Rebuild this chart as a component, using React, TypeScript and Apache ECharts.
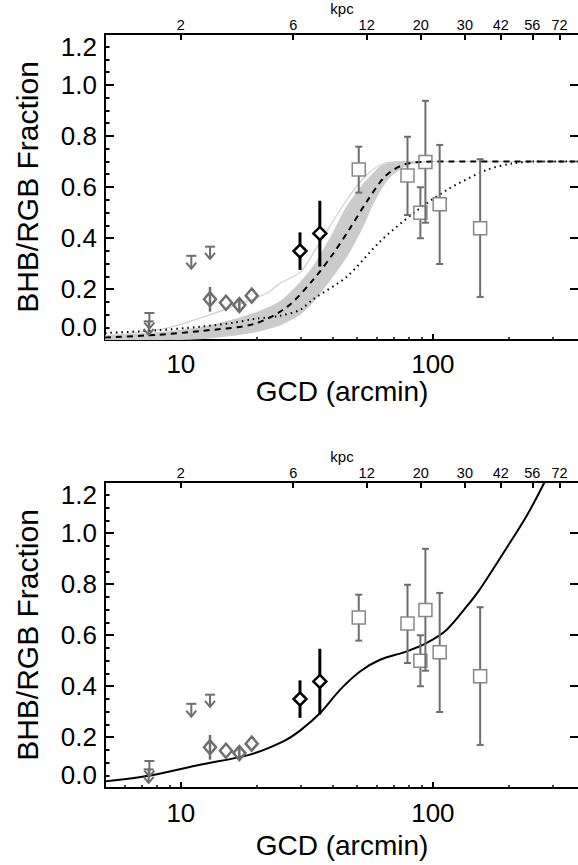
import React, { useEffect, useRef } from 'react';
import * as echarts from 'echarts';

const lg = (v: number) => Math.log10(v);

// ---------- axes ----------
const X_MIN = 5;
const X_MAX = 380;
const Y_MIN = 0;
const Y_MAX = 1.2;
const xMajorTicks = [10, 100];
const xMinorTicks = [6, 7, 8, 9, 20, 30, 40, 50, 60, 70, 80, 90, 200, 300];
const kpcLabels = ['2', '6', '12', '20', '30', '42', '56', '72'];
const kpcGCD = [10.0, 27.9, 54.6, 89.5, 134, 186, 248, 318];

// ---------- data points ----------
// upper limits (arrows)
const limGCD = [7.5, 7.45, 11.0, 13.05];
const limTop = [0.106, 0.073, 0.33, 0.366];
const limTip = [0.045, 0.02, 0.28, 0.318];

// grey diamonds
const grayDiaGCD = [13.05, 15.1, 17.06, 19.1];
const grayDiaFrac = [0.16, 0.146, 0.137, 0.174];
const grayDiaLo = [0.111, 0.146, 0.111, 0.174];
const grayDiaHi = [0.208, 0.146, 0.165, 0.174];

// black diamonds
const blackDiaGCD = [29.7, 35.6];
const blackDiaFrac = [0.349, 0.418];
const blackDiaLo = [0.275, 0.288];
const blackDiaHi = [0.422, 0.546];

// grey squares
const sqGCD = [50.8, 79.3, 89.2, 93.4, 106.4, 154];
const sqFrac = [0.669, 0.645, 0.499, 0.698, 0.532, 0.438];
const sqLo = [0.578, 0.49, 0.399, 0.46, 0.298, 0.169];
const sqHi = [0.758, 0.797, 0.599, 0.938, 0.765, 0.709];

// ---------- model curves (top panel) ----------
const dashGCD = [5, 8, 11.9, 19.5, 26.4, 33.4, 40.3, 46.9, 54.6, 63.5, 69.6, 78, 88.9, 120, 380];
const dashFrac = [0.01, 0.02, 0.035, 0.063, 0.13, 0.235, 0.34, 0.438, 0.542, 0.634, 0.667, 0.69, 0.698, 0.7, 0.7];

const dotGCD = [5, 8, 11.9, 16, 19.4, 24.7, 29.7, 33.5, 45.5, 61.7, 83.7, 113.5, 163.6, 208.5, 260, 380];
const dotFrac = [0.027, 0.038, 0.052, 0.067, 0.082, 0.095, 0.118, 0.16, 0.248, 0.386, 0.497, 0.588, 0.667, 0.693, 0.7, 0.7];

const thinGCD = [5, 8.8, 11.9, 16.1, 21.9, 24.7, 29.7, 33.5, 45.5, 54.6, 65, 80, 380];
const thinFrac = [0.015, 0.047, 0.086, 0.131, 0.183, 0.222, 0.265, 0.34, 0.549, 0.647, 0.695, 0.7, 0.7];

const bandGCD = [5, 8, 11.9, 16, 20, 24.7, 29.7, 33.5, 39.1, 45.5, 53.1, 56.3, 61.7, 67.6, 78.8, 90, 120];
const bandLo = [0.0, 0.0, 0.005, 0.018, 0.033, 0.059, 0.1, 0.15, 0.235, 0.327, 0.45, 0.51, 0.585, 0.64, 0.686, 0.698, 0.7];
const bandHi = [0.015, 0.028, 0.048, 0.078, 0.108, 0.15, 0.225, 0.288, 0.399, 0.523, 0.614, 0.64, 0.68, 0.695, 0.7, 0.7, 0.7];

// ---------- model curve (bottom panel) ----------
const solidGCD = [5, 7.55, 11.9, 18.8, 25.5, 29.7, 35.7, 42.8, 51.4, 61.7, 78.8, 94.5, 113.5, 136.2, 153.8, 196.3, 235.7, 274.4, 319.6];
const solidFrac = [0.026, 0.049, 0.091, 0.131, 0.183, 0.225, 0.294, 0.385, 0.457, 0.503, 0.536, 0.569, 0.621, 0.712, 0.78, 0.942, 1.068, 1.19, 1.33];

const FONT = '"Liberation Sans", Arial, Helvetica, sans-serif';
const GRAY = '#6e6e6e';
const SQ_GRAY = '#878787';

function arrowRender(params: any, api: any) {
  const x = api.value(0);
  const top = api.coord([x, api.value(1)]);
  const tip = api.coord([x, api.value(2)]);
  const st = { stroke: GRAY, lineWidth: 2, fill: 'none' };
  return {
    type: 'group',
    children: [
      { type: 'line', shape: { x1: top[0] - 5, y1: top[1], x2: top[0] + 5, y2: top[1] }, style: st },
      { type: 'line', shape: { x1: top[0], y1: top[1], x2: tip[0], y2: tip[1] }, style: st },
      { type: 'polyline', shape: { points: [[tip[0] - 5, tip[1] - 6], [tip[0], tip[1]], [tip[0] + 5, tip[1] - 6]] }, style: st },
    ],
  };
}

function diamondRender(color: string, lw: number, hw: number, hh: number, errW: number, through: boolean) {
  return (params: any, api: any) => {
    const x = api.value(0);
    const c = api.coord([x, api.value(1)]);
    const l = api.coord([x, api.value(2)]);
    const h = api.coord([x, api.value(3)]);
    const children: any[] = [];
    const st = { stroke: color, lineWidth: errW };
    if (through) {
      if (h[1] < l[1]) children.push({ type: 'line', shape: { x1: c[0], y1: h[1], x2: c[0], y2: l[1] }, style: st });
    } else {
      if (h[1] < c[1] - hh) children.push({ type: 'line', shape: { x1: c[0], y1: h[1], x2: c[0], y2: c[1] - hh }, style: st });
      if (l[1] > c[1] + hh) children.push({ type: 'line', shape: { x1: c[0], y1: c[1] + hh, x2: c[0], y2: l[1] }, style: st });
    }
    children.push({
      type: 'polygon',
      shape: { points: [[c[0], c[1] - hh], [c[0] + hw, c[1]], [c[0], c[1] + hh], [c[0] - hw, c[1]]] },
      style: { fill: 'none', stroke: color, lineWidth: lw },
    });
    return { type: 'group', children };
  };
}

function squareRender(params: any, api: any) {
  const x = api.value(0);
  const c = api.coord([x, api.value(1)]);
  const l = api.coord([x, api.value(2)]);
  const h = api.coord([x, api.value(3)]);
  const s = 6.5;
  const st = { stroke: GRAY, lineWidth: 2 };
  return {
    type: 'group',
    children: [
      { type: 'line', shape: { x1: c[0], y1: h[1], x2: c[0], y2: c[1] - s }, style: st },
      { type: 'line', shape: { x1: c[0], y1: c[1] + s, x2: c[0], y2: l[1] }, style: st },
      { type: 'line', shape: { x1: c[0] - 3.5, y1: h[1], x2: c[0] + 3.5, y2: h[1] }, style: st },
      { type: 'line', shape: { x1: c[0] - 3.5, y1: l[1], x2: c[0] + 3.5, y2: l[1] }, style: st },
      { type: 'rect', shape: { x: c[0] - s, y: c[1] - s, width: 2 * s, height: 2 * s }, style: { fill: 'none', stroke: SQ_GRAY, lineWidth: 1.5 } },
    ],
  };
}

function bandRender(params: any, api: any) {
  const pts: number[][] = [];
  for (let i = 0; i < bandGCD.length; i++) pts.push(api.coord([lg(bandGCD[i]), bandHi[i]]));
  for (let i = bandGCD.length - 1; i >= 0; i--) pts.push(api.coord([lg(bandGCD[i]), bandLo[i]]));
  return { type: 'polygon', shape: { points: pts, smooth: 0.2 }, style: { fill: '#cbcbcb', stroke: '#cbcbcb', lineWidth: 1 } };
}

function nearestKpc(v: number) {
  let best = 0;
  let bd = Infinity;
  kpcGCD.forEach((g, i) => {
    const d = Math.abs(lg(g) - v);
    if (d < bd) { bd = d; best = i; }
  });
  return kpcLabels[best];
}

function buildOption() {
  const panels = [
    { top: 34, labelMargin: 11, nameGap: 32, model: 'top' },
    { top: 482, labelMargin: 12, nameGap: 43, model: 'bottom' },
  ];
  const grid: any[] = [];
  const xAxis: any[] = [];
  const yAxis: any[] = [];
  const series: any[] = [];
  const axisLineStyle = { color: '#000', width: 2 };
  const txt = { color: '#000', fontFamily: FONT };

  panels.forEach((p, pi) => {
    grid.push({ left: 105, top: p.top, width: 474, height: 306, outerBoundsMode: 'none', containLabel: false });
    xAxis.push({
      gridIndex: pi, type: 'value', min: lg(X_MIN), max: lg(X_MAX), position: 'bottom',
      axisLine: { show: true, onZero: false, lineStyle: axisLineStyle },
      axisTick: { show: true, inside: true, length: 6, customValues: xMajorTicks.map(lg), lineStyle: axisLineStyle },
      axisLabel: {
        show: true, customValues: xMajorTicks.map(lg), margin: p.labelMargin, fontSize: 26, ...txt,
        formatter: (v: number) => String(Math.round(Math.pow(10, v))),
      },
      splitLine: { show: false },
      name: 'GCD (arcmin)', nameLocation: 'middle', nameGap: p.nameGap,
      nameTextStyle: { fontSize: 28, ...txt },
    });
    xAxis.push({
      gridIndex: pi, type: 'value', min: lg(X_MIN), max: lg(X_MAX), position: 'bottom',
      axisLine: { show: false, onZero: false },
      axisTick: { show: true, inside: true, length: 3, customValues: xMinorTicks.map(lg), lineStyle: { color: '#000', width: 1.5 } },
      axisLabel: { show: false },
      splitLine: { show: false },
    });
    xAxis.push({
      gridIndex: pi, type: 'value', min: lg(X_MIN), max: lg(X_MAX), position: 'top',
      axisLine: { show: true, onZero: false, lineStyle: axisLineStyle },
      axisTick: { show: true, inside: true, length: 6, customValues: kpcGCD.map(lg), lineStyle: axisLineStyle },
      axisLabel: { show: true, customValues: kpcGCD.map(lg), margin: 2, fontSize: 14.5, ...txt, formatter: (v: number) => nearestKpc(v) },
      splitLine: { show: false },
      name: 'kpc', nameLocation: 'middle', nameGap: 13, nameTextStyle: { fontSize: 15, ...txt },
    });
    yAxis.push({
      gridIndex: pi, type: 'value', min: Y_MIN, max: Y_MAX, interval: 0.2, position: 'left',
      axisLine: { show: true, onZero: false, lineStyle: axisLineStyle },
      axisTick: { show: true, inside: true, length: 9, lineStyle: axisLineStyle },
      minorTick: { show: true, splitNumber: 4, length: 4.5, lineStyle: { color: '#000', width: 2 } },
      minorSplitLine: { show: false },
      axisLabel: {
        show: true, margin: 8, fontSize: 26, ...txt,
        formatter: (v: number) => v.toFixed(1),
        verticalAlignMinLabel: 'bottom', verticalAlignMaxLabel: 'top',
      },
      splitLine: { show: false },
      name: 'BHB/RGB Fraction', nameLocation: 'middle', nameGap: 63,
      nameTextStyle: { fontSize: 30, ...txt },
    });
    yAxis.push({
      gridIndex: pi, type: 'value', min: Y_MIN, max: Y_MAX, interval: 0.2, position: 'right',
      axisLine: { show: true, onZero: false, lineStyle: axisLineStyle },
      axisTick: { show: true, inside: true, length: 9, lineStyle: axisLineStyle },
      axisLabel: { show: false },
      splitLine: { show: false },
    });

    const xi = pi * 3;
    const yi = pi * 2;
    const base = { xAxisIndex: xi, yAxisIndex: yi, silent: true, animation: false };

    if (p.model === 'top') {
      series.push({ ...base, type: 'custom', renderItem: bandRender, data: [[lg(bandGCD[0]), bandLo[0]]], z: 1, clip: true });
      series.push({
        ...base, type: 'line', data: thinGCD.map((g, i) => [lg(g), thinFrac[i]]), showSymbol: false, symbol: 'none',
        smooth: 0.3, lineStyle: { color: '#cfcfcf', width: 1.2 }, z: 2,
      });
      series.push({
        ...base, type: 'line', data: dotGCD.map((g, i) => [lg(g), dotFrac[i]]), showSymbol: false, symbol: 'none',
        smooth: 0.3, lineStyle: { color: '#000', width: 2, type: [1.5, 4] }, z: 3,
      });
      series.push({
        ...base, type: 'line', data: dashGCD.map((g, i) => [lg(g), dashFrac[i]]), showSymbol: false, symbol: 'none',
        smooth: 0.3, lineStyle: { color: '#000', width: 2, type: [6, 5] }, z: 3,
      });
    } else {
      series.push({
        ...base, type: 'line', data: solidGCD.map((g, i) => [lg(g), solidFrac[i]]), showSymbol: false, symbol: 'none',
        smooth: 0.3, lineStyle: { color: '#000', width: 2 }, z: 3, clip: true,
      });
    }

    series.push({ ...base, type: 'custom', renderItem: arrowRender, data: limGCD.map((g, i) => [lg(g), limTop[i], limTip[i]]), z: 5 });
    series.push({
      ...base, type: 'custom', renderItem: diamondRender(GRAY, 2.5, 6, 7, 2.5, true),
      data: grayDiaGCD.map((g, i) => [lg(g), grayDiaFrac[i], grayDiaLo[i], grayDiaHi[i]]), z: 5,
    });
    series.push({
      ...base, type: 'custom', renderItem: diamondRender('#000', 2.5, 6.5, 6.5, 3, false),
      data: blackDiaGCD.map((g, i) => [lg(g), blackDiaFrac[i], blackDiaLo[i], blackDiaHi[i]]), z: 5,
    });
    series.push({
      ...base, type: 'custom', renderItem: squareRender,
      data: sqGCD.map((g, i) => [lg(g), sqFrac[i], sqLo[i], sqHi[i]]), z: 5,
    });
  });

  return { animation: false, backgroundColor: '#fff', grid, xAxis, yAxis, series };
}

export default function App() {
  const ref = useRef<HTMLDivElement>(null);
  useEffect(() => {
    const chart = echarts.init(ref.current as HTMLDivElement, undefined, { renderer: 'svg' });
    chart.setOption(buildOption() as any);
    return () => chart.dispose();
  }, []);
  return (
    <div
      ref={ref}
      style={{ position: 'absolute', left: 0, top: 0, width: 578, height: 865, background: '#fff' }}
    />
  );
}
